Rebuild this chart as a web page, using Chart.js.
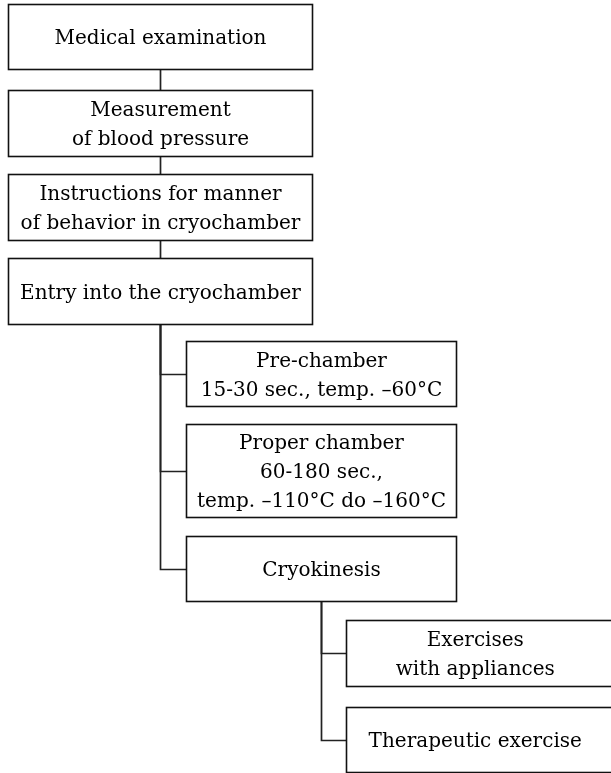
<!DOCTYPE html>
<html>
<head>
<meta charset="utf-8">
<title>Cryotherapy procedure</title>
<script src="https://cdn.jsdelivr.net/npm/chart.js@4.4.1/dist/chart.umd.min.js"></script>
<style>
  html, body { margin: 0; padding: 0; background: #fff; }
  #wrap { width: 611px; height: 773px; }
</style>
</head>
<body>
<div id="wrap"><canvas id="flow" width="611" height="773"></canvas></div>
<script>
// steps of the procedure, one entry per box
const nodeLabels = [
  ["Medical examination"],
  ["Measurement", "of blood pressure"],
  ["Instructions for manner", "of behavior in cryochamber"],
  ["Entry into the cryochamber"],
  ["Pre-chamber", "15-30 sec., temp. \u201360\u00b0C"],
  ["Proper chamber", "60-180 sec.,", "temp. \u2013110\u00b0C do \u2013160\u00b0C"],
  ["Cryokinesis"],
  ["Exercises", "with appliances"],
  ["Therapeutic exercise"]
];
// which box each one hangs from (-1 = top)
const nodeParent = [-1, 0, 1, 2, 3, 3, 3, 6, 6];
// box extents in diagram units (x: 0..611, y: 0..773 downwards)
const nodeLeft   = [8, 8, 8, 8, 186, 186, 186, 346, 346];
const nodeRight  = [312, 312, 312, 312, 456, 456, 456, 640, 640];
const nodeTop    = [4, 90, 174, 258, 341, 424, 536, 620, 707];
const nodeBottom = [69, 156, 240, 324, 406, 517, 601, 686, 772];

const centers = nodeLabels.map((l, i) => ({
  x: (nodeLeft[i] + nodeRight[i]) / 2,
  y: (nodeTop[i] + nodeBottom[i]) / 2
}));

const flowPlugin = {
  id: "flowBoxes",
  afterDatasetsDraw(chart) {
    const ctx = chart.ctx;
    const xs = chart.scales.x;
    const ys = chart.scales.y;
    const px = v => xs.getPixelForValue(v);
    const py = v => ys.getPixelForValue(v);
    ctx.save();

    // connectors
    ctx.strokeStyle = "#222";
    ctx.lineWidth = 1.7;
    nodeParent.forEach((p, i) => {
      if (p < 0) return;
      const trunkX = Math.round(px(centers[p].x)) + 0.5;
      ctx.beginPath();
      if (nodeLeft[i] === nodeLeft[p]) {
        // straight down
        ctx.moveTo(trunkX, py(nodeBottom[p]));
        ctx.lineTo(trunkX, py(nodeTop[i]));
      } else {
        // elbow into the left side of the child
        const yy = Math.round(py(centers[i].y)) + 0.5;
        ctx.moveTo(trunkX, py(nodeBottom[p]));
        ctx.lineTo(trunkX, yy);
        ctx.lineTo(px(nodeLeft[i]), yy);
      }
      ctx.stroke();
    });

    // boxes
    ctx.strokeStyle = "#111";
    ctx.lineWidth = 1.6;
    nodeLabels.forEach((lines, i) => {
      const x0 = Math.round(px(nodeLeft[i])) + 0.5;
      const x1 = Math.round(px(nodeRight[i])) + 0.5;
      const y0 = Math.round(py(nodeTop[i])) + 0.5;
      const y1 = Math.round(py(nodeBottom[i])) + 0.5;
      ctx.fillStyle = "#fff";
      ctx.fillRect(x0, y0, x1 - x0, y1 - y0);
      ctx.strokeRect(x0, y0, x1 - x0, y1 - y0);

      // text: centred in the visible part of the box
      const cx = (x0 + Math.min(x1, chart.width - 7)) / 2;
      const cy = (y0 + y1) / 2 + 2;
      const lh = 29;
      ctx.fillStyle = "#000";
      ctx.font = "20px 'DejaVu Serif', serif";
      ctx.textAlign = "center";
      ctx.textBaseline = "middle";
      lines.forEach((t, k) => {
        ctx.fillText(t, cx, cy + (k - (lines.length - 1) / 2) * lh);
      });
    });
    ctx.restore();
  }
};

new Chart(document.getElementById("flow"), {
  type: "scatter",
  data: {
    datasets: [{
      label: "steps",
      data: centers,
      pointRadius: 0,
      pointHoverRadius: 0
    }]
  },
  options: {
    responsive: false,
    animation: false,
    layout: { padding: 0 },
    plugins: { legend: { display: false }, tooltip: { enabled: false } },
    scales: {
      x: { type: "linear", min: 0, max: 611, display: false },
      y: { type: "linear", min: 0, max: 773, reverse: true, display: false }
    }
  },
  plugins: [flowPlugin]
});
</script>
</body>
</html>
